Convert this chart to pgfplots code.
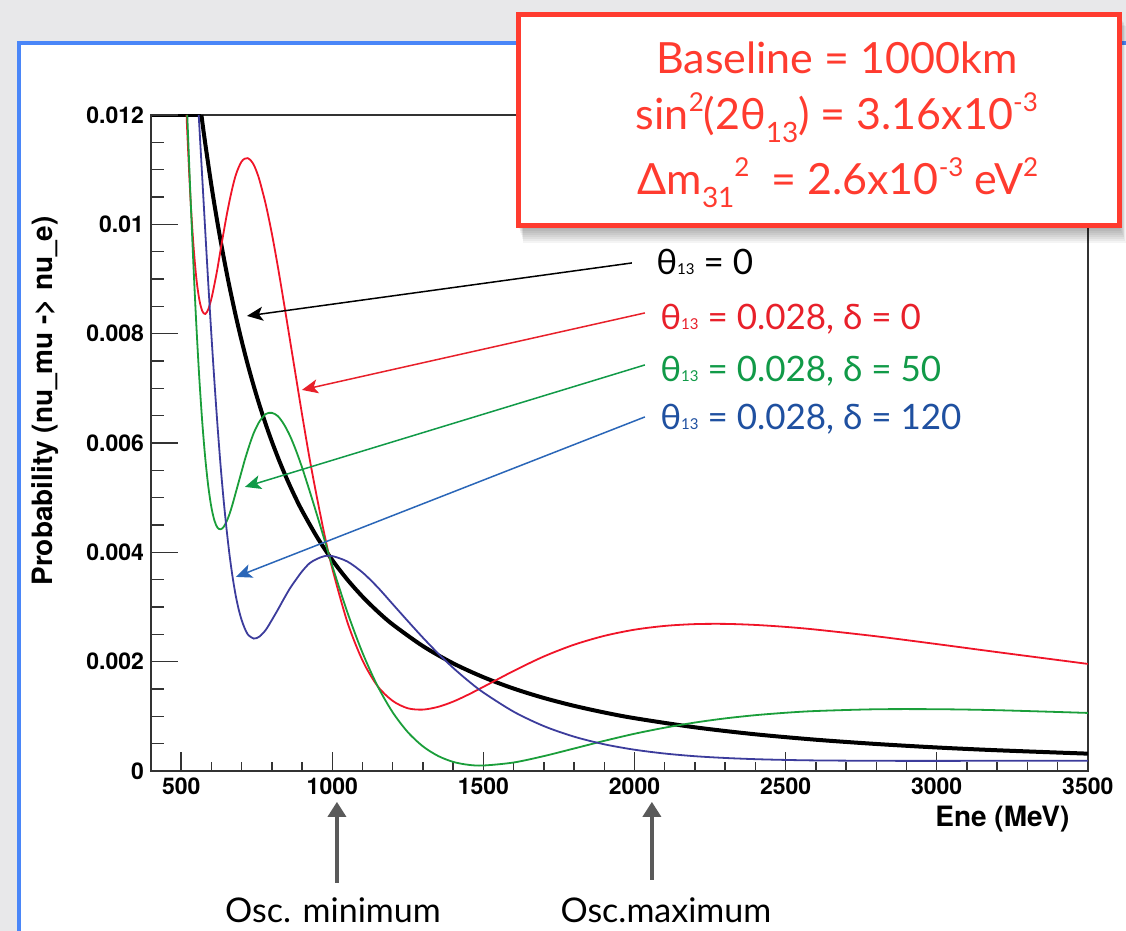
\documentclass[border=0pt]{standalone}
\usepackage{fontspec}
\setmainfont{Lato}
\setsansfont{TeX Gyre Heros}
\usepackage{pgfplots}
\usepackage{pgfplotstable}
\pgfplotsset{compat=1.18}
\usetikzlibrary{arrows.meta}

\definecolor{slidebg}{HTML}{E8E8EA}
\definecolor{panelblue}{HTML}{4A86F8}
\definecolor{boxred}{HTML}{FF3B2F}
\definecolor{framegray}{HTML}{333333}
\definecolor{curvered}{HTML}{F01428}
\definecolor{curvegreen}{HTML}{1A9E3A}
\definecolor{curveblue}{HTML}{3C3C9C}
\definecolor{txtred}{HTML}{E8202A}
\definecolor{txtgreen}{HTML}{119A48}
\definecolor{txtblue}{HTML}{1F50A0}
\definecolor{arrblue}{HTML}{2A66B8}
\definecolor{arrgray}{HTML}{5A5A5A}

\newcommand\tickfont{\sffamily\bfseries\fontsize{11.5}{12}\selectfont}
\newcommand\titlefont{\sffamily\bfseries\fontsize{14}{15}\selectfont}
\newcommand\lfont{\fontsize{17.5}{20}\selectfont}
\newcommand\sub[1]{{\fontsize{7.5}{8}\selectfont #1}}
\newcommand\bfont{\fontsize{21.5}{24}\selectfont}
\newcommand\bsup[1]{\raisebox{0.42em}{\fontsize{13}{13}\selectfont #1}}
\newcommand\bsub[1]{\raisebox{-0.28em}{\fontsize{14}{14}\selectfont #1}}

% E in MeV, P in units of 1e-3; each table starts where the curve leaves the
% frame top (below that energy the curve is held at 0.012)
\pgfplotstableread{
E P
566.9 12
575 11.66
590 11.08
600 10.71
610 10.36
620 10.03
630 9.715
640 9.414
650 9.127
660 8.852
680 8.339
700 7.869
720 7.438
740 7.042
760 6.676
780 6.338
800 6.025
825 5.666
850 5.337
875 5.036
900 4.760
950 4.273
1000 3.856
1050 3.498
1100 3.187
1150 2.916
1200 2.678
1300 2.282
1400 1.967
1500 1.714
1600 1.506
1700 1.334
1800 1.190
1900 1.068
2000 0.964
2200 0.797
2400 0.669
2600 0.570
2800 0.492
3000 0.428
3200 0.377
3500 0.315
}\tblack

\pgfplotstableread{
E P
517.9 12
520 11.70
530 10.545
540 9.66
550 9.02
560 8.62
570 8.41
580 8.36
590 8.45
600 8.64
610 8.90
620 9.19
630 9.52
640 9.84
650 10.15
660 10.43
670 10.68
680 10.89
690 11.04
700 11.15
710 11.20
720 11.21
730 11.17
740 11.09
750 10.96
760 10.79
780 10.36
800 9.83
820 9.22
840 8.56
860 7.88
880 7.20
900 6.52
925 5.71
950 4.98
975 4.30
1000 3.70
1050 2.72
1100 2.02
1150 1.55
1200 1.28
1250 1.145
1300 1.121
1350 1.171
1400 1.267
1450 1.395
1500 1.537
1600 1.828
1700 2.093
1800 2.308
1900 2.470
2000 2.583
2100 2.652
2200 2.685
2300 2.689
2400 2.670
2500 2.634
2600 2.585
2800 2.462
3000 2.320
3200 2.173
3500 1.957
}\tred

\pgfplotstableread{
E P
520.1 12
530 10.61
540 9.32
550 8.17
560 7.18
570 6.36
580 5.70
590 5.19
600 4.82
610 4.58
620 4.45
630 4.42
640 4.46
650 4.56
660 4.70
670 4.88
680 5.08
690 5.28
700 5.48
710 5.68
720 5.86
730 6.03
740 6.18
750 6.30
760 6.40
780 6.53
800 6.55
820 6.49
840 6.34
860 6.13
880 5.86
900 5.55
925 5.12
950 4.67
975 4.21
1000 3.75
1050 2.90
1100 2.16
1150 1.55
1200 1.07
1250 0.708
1300 0.448
1350 0.273
1400 0.164
1450 0.111
1500 0.098
1600 0.153
1700 0.270
1800 0.409
1900 0.549
2000 0.679
2100 0.790
2200 0.884
2300 0.960
2400 1.019
2500 1.063
2600 1.095
2800 1.127
3000 1.128
3200 1.110
3500 1.060
}\tgreen

\pgfplotstableread{
E P
557.9 12
560 11.80
570 10.82
580 9.84
590 8.88
600 7.97
610 7.12
620 6.33
630 5.61
640 4.98
650 4.43
660 3.95
670 3.55
680 3.22
690 2.96
700 2.76
710 2.61
720 2.50
730 2.45
740 2.42
750 2.43
760 2.46
780 2.58
800 2.76
820 2.95
840 3.15
860 3.34
880 3.50
900 3.65
925 3.80
950 3.88
975 3.93
1000 3.93
1050 3.83
1100 3.63
1150 3.36
1200 3.05
1250 2.74
1300 2.436
1350 2.149
1400 1.884
1450 1.646
1500 1.433
1600 1.083
1700 0.819
1800 0.626
1900 0.486
2000 0.387
2100 0.317
2200 0.268
2300 0.236
2400 0.214
2500 0.200
2600 0.191
2800 0.184
3000 0.183
3200 0.184
3500 0.186
}\tblue

\begin{document}
\begin{tikzpicture}
% slide background and white panel (pixel units, y downwards)
\begin{scope}[x=0.5pt,y=-0.5pt]
\path[use as bounding box] (0,0) rectangle (1126,931);
\fill[slidebg] (0,0) rectangle (1126,931);
\fill[white] (19,43) rectangle (1140,950);
\draw[panelblue,line width=2pt] (19,960) -- (19,43) -- (1140,43);
\end{scope}

\begin{axis}[
  at={(75.5pt,-385.5pt)}, anchor=south west,
  scale only axis, width=468.5pt, height=328pt,
  xmin=400, xmax=3500, ymin=0, ymax=12,
  axis line style={draw=framegray,line width=1pt},
  tick align=inside, tick pos=left,
  xtick={500,1000,...,3500},
  xticklabels={500,1000,1500,2000,2500,3000,3500},
  minor xtick={400,500,...,3500},
  ytick=\empty,
  major tick length=9.5pt, minor tick length=4.5pt,
  tick style={draw=framegray,line width=0.7pt},
  xticklabel style={font=\tickfont},
]
\addplot[curvered,line width=0.9pt] coordinates {(400,12) (517.9,12)};
\addplot[curvegreen,line width=0.9pt] coordinates {(400,12) (520.1,12)};
\addplot[curveblue,line width=0.9pt] coordinates {(400,12) (557.9,12)};
\addplot[black,line width=2pt] coordinates {(400,12) (566.9,12)};
\addplot[black,line width=2pt,smooth] table[x=E,y=P] {\tblack};
\addplot[curvered,line width=0.9pt,smooth] table[x=E,y=P] {\tred};
\addplot[curvegreen,line width=0.9pt,smooth] table[x=E,y=P] {\tgreen};
\addplot[curveblue,line width=0.9pt,smooth] table[x=E,y=P] {\tblue};
\end{axis}

% y ticks are longer than x ticks, as in the original
\begin{axis}[
  at={(75.5pt,-385.5pt)}, anchor=south west,
  scale only axis, width=468.5pt, height=328pt,
  xmin=400, xmax=3500, ymin=0, ymax=12,
  axis x line=none, axis y line*=left,
  axis line style={draw=framegray,line width=1pt},
  tick align=inside,
  xtick=\empty,
  ytick={0,2,...,12},
  yticklabels={0,0.002,0.004,0.006,0.008,0.01,0.012},
  minor ytick={0,0.5,...,12},
  major tick length=13.5pt, minor tick length=6.5pt,
  tick style={draw=framegray,line width=0.7pt},
  yticklabel style={font=\tickfont},
]
\end{axis}

\begin{scope}[x=0.5pt,y=-0.5pt]
% axis titles
\node[anchor=base,rotate=90,inner sep=0pt] at (53,401) {\titlefont Probability (nu\_mu -> nu\_e)};
\node[anchor=base east,inner sep=0pt] at (1070,827) {\titlefont Ene (MeV)};

% legend labels and arrows
\draw[black,line width=0.75pt,-{Stealth[length=8pt,width=7pt,inset=2pt]}] (632,263) -- (247,316);
\draw[txtred,line width=0.75pt,-{Stealth[length=8pt,width=7pt,inset=2pt]}] (645,313) -- (302,390);
\draw[txtgreen,line width=0.75pt,-{Stealth[length=8pt,width=7pt,inset=2pt]}] (645,365) -- (245,487);
\draw[arrblue,line width=0.75pt,-{Stealth[length=8pt,width=7pt,inset=2pt]}] (645,417) -- (236,577);
\node[anchor=base west,inner sep=0pt,text=black] at (656,275) {\lfont θ\sub{13} = 0};
\node[anchor=base west,inner sep=0pt,text=txtred] at (660,330) {\lfont θ\sub{13} = 0.028, δ = 0};
\node[anchor=base west,inner sep=0pt,text=txtgreen] at (660,382) {\lfont θ\sub{13} = 0.028, δ = 50};
\node[anchor=base west,inner sep=0pt,text=txtblue] at (660,430) {\lfont θ\sub{13} = 0.028, δ = 120};

% oscillation markers
\draw[arrgray,line width=1.7pt,-{Triangle[length=7.5pt,width=9pt]}] (337,883) -- (337,802);
\draw[arrgray,line width=1.7pt,-{Triangle[length=7.5pt,width=9pt]}] (652,880) -- (652,802);
\node[anchor=base,inner sep=0pt] at (333,923) {\fontsize{17}{20}\selectfont Osc. minimum};
\node[anchor=base,inner sep=0pt] at (666,923) {\fontsize{17}{20}\selectfont Osc.maximum};

% parameter box with shadow
\foreach \i in {1,...,9}
  \fill[black,opacity=0.045] (518+0.6*\i,15+1.2*\i) rectangle (1119+0.8*\i,225.5+2*\i);
\draw[boxred,line width=2.5pt,fill=white] (518.5,15) rectangle (1119.5,225.5);
\node[anchor=base,inner sep=0pt,text=boxred] at (837,74) {\bfont Baseline = 1000km};
\node[anchor=base,inner sep=0pt,text=boxred] at (837,130) {\bfont sin\bsup{2}(2θ\bsub{13}) = 3.16x10\bsup{-3}};
\node[anchor=base,inner sep=0pt,text=boxred] at (838,195) {\bfont Δm\bsub{31}\bsup{2}\ \ = 2.6x10\bsup{-3} eV\bsup{2}};
\end{scope}
\end{tikzpicture}
\end{document}
